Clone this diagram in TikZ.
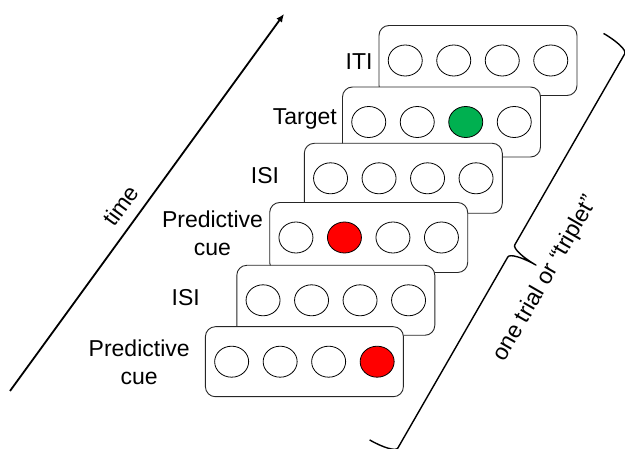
\documentclass[tikz,border=0pt]{standalone}
\usepackage{fontspec}
\setmainfont{Liberation Sans}
\usetikzlibrary{shapes.geometric,arrows.meta,calc}
\definecolor{tgreen}{HTML}{00B050}
\definecolor{cuered}{HTML}{FF0000}
\begin{document}
\begin{tikzpicture}[x=1pt,y=-1pt,
  panel/.style={draw=black!85, line width=0.9pt, fill=white, rounded corners=10pt,
    minimum width=198pt, minimum height=70pt, inner sep=0pt},
  dot/.style={ellipse, draw=black, line width=0.8pt, fill=white,
    minimum width=34pt, minimum height=31pt, inner sep=0pt},
  lbl/.style={font=\fontsize{23}{27.5}\selectfont, inner sep=0pt, align=center},
  timearrow/.style={line width=1.8pt, -{Latex[length=8pt,width=7pt]}},
  bracestyle/.style={line width=1.4pt, line join=round}
]
\useasboundingbox (0,0) rectangle (625,449);

% time arrow
\coordinate (tstart) at (10,391);
\coordinate (tend) at (284,14);
\draw[timearrow] (tstart) -- (tend);
\node[lbl, rotate=54] (timelbl) at (120.5,205.5) {time};

% panel 1 (ITI)
\node[panel] (p1) at (478,60.5) {};
\foreach \k/\dx in {a/-72.75,b/-24.25,c/24.25,d/72.75}
  \node[dot] (p1\k) at ($(p1.center)+(\dx,0)$) {};
\node[lbl, anchor=base east] (l1) at (372.7,70) {ITI};

% panel 2 (Target)
\node[panel] (p2) at (441.5,122) {};
\foreach \k/\dx in {a/-72.75,b/-24.25,d/72.75}
  \node[dot] (p2\k) at ($(p2.center)+(\dx,0)$) {};
\node[dot, fill=tgreen] (p2c) at ($(p2.center)+(24.25,0)$) {};
\node[lbl, anchor=base east] (l2) at (337,125) {Target};

% panel 3 (ISI)
\node[panel] (p3) at (403.3,178.3) {};
\foreach \k/\dx in {a/-72.75,b/-24.25,c/24.25,d/72.75}
  \node[dot] (p3\k) at ($(p3.center)+(\dx,0)$) {};
\node[lbl, anchor=base east] (l3) at (279.3,183.3) {ISI};

% panel 4 (Predictive cue)
\node[panel] (p4) at (368.7,237.5) {};
\foreach \k/\dx in {a/-72.75,c/24.25,d/72.75}
  \node[dot] (p4\k) at ($(p4.center)+(\dx,0)$) {};
\node[dot, fill=cuered] (p4b) at ($(p4.center)+(-24.25,0)$) {};
\node[lbl, anchor=base] (l4) at (212.5,255.5) {Predictive\\cue};

% panel 5 (ISI)
\node[panel] (p5) at (335.8,300.3) {};
\foreach \k/\dx in {a/-72.75,b/-24.25,c/24.25,d/72.75}
  \node[dot] (p5\k) at ($(p5.center)+(\dx,0)$) {};
\node[lbl, anchor=base east] (l5) at (200,306) {ISI};

% panel 6 (Predictive cue)
\node[panel] (p6) at (304.4,361.7) {};
\foreach \k/\dx in {a/-72.75,b/-24.25,c/24.25}
  \node[dot] (p6\k) at ($(p6.center)+(\dx,0)$) {};
\node[dot, fill=cuered] (p6d) at ($(p6.center)+(72.75,0)$) {};
\node[lbl, anchor=base] (l6) at (139.2,384.5) {Predictive\\cue};

% brace
\begin{scope}[shift={(511.3,250.9)}, x={(-0.4988pt,-0.8667pt)}, y={(0.8667pt,-0.4988pt)}]
\draw[bracestyle] (-234.5,-28.5) .. controls (-234.5,-12.76) and (-231.37,0) .. (-227.5,0)
  -- (-7,0) .. controls (-3.13,0) and (0,12.76) .. (0,28.5)
  .. controls (0,12.76) and (3.13,0) .. (7,0)
  -- (227.5,0) .. controls (231.37,0) and (234.5,-12.76) .. (234.5,-28.5);
\end{scope}
\node[lbl, rotate=60] (bracelbl) at (546,279) {one trial or “triplet”};
\end{tikzpicture}
\end{document}
